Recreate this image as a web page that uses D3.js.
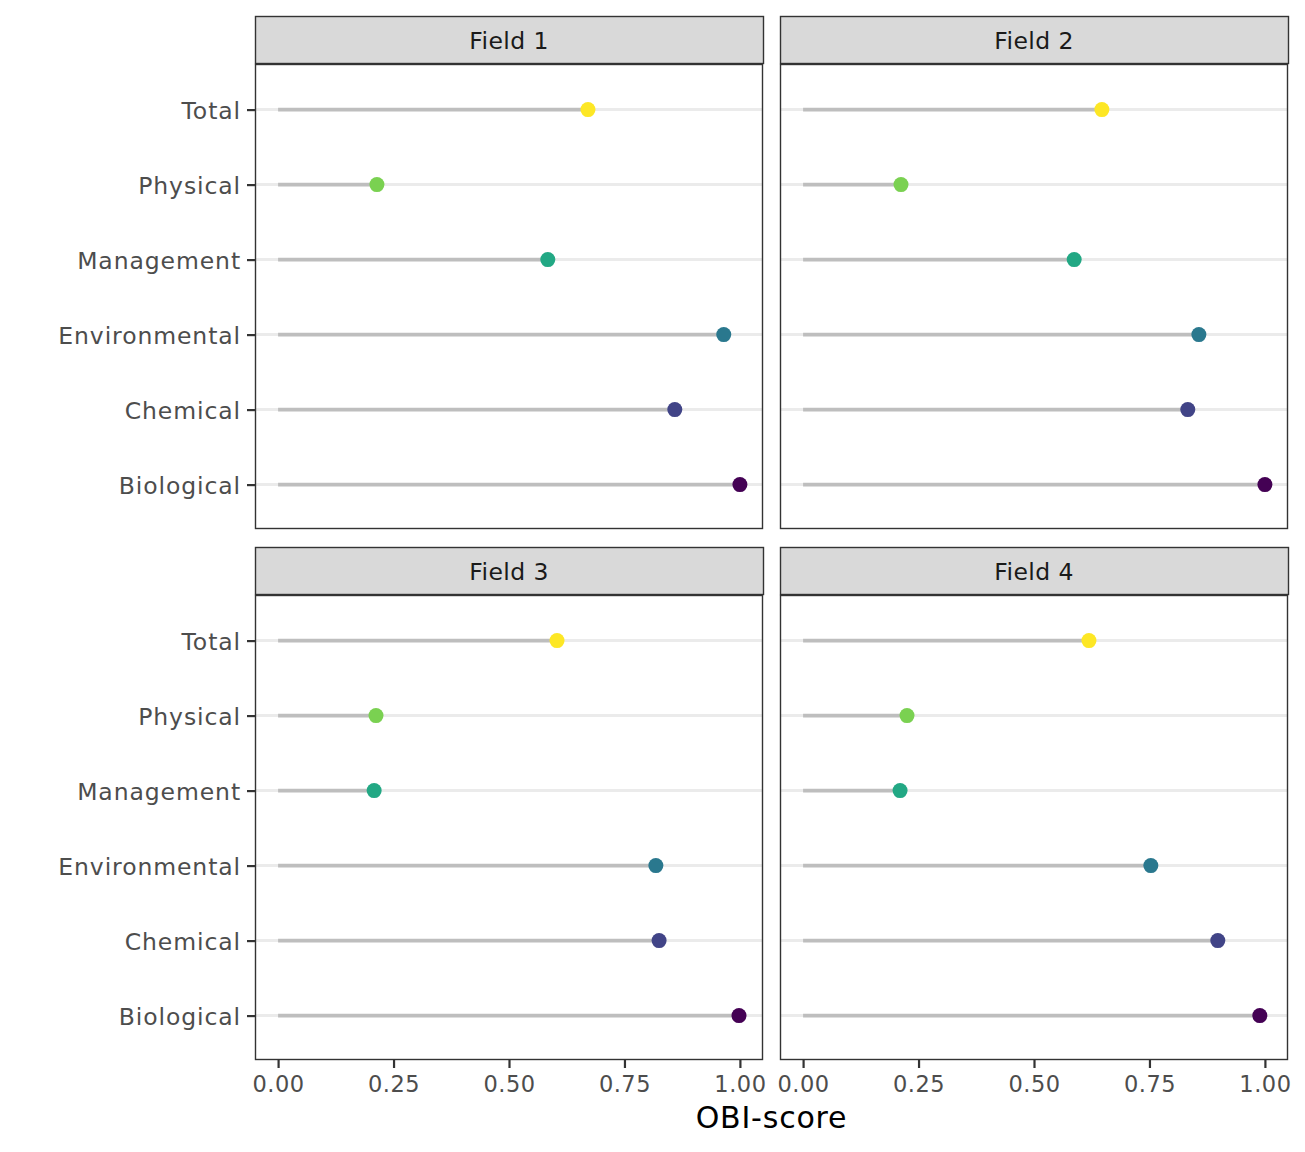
<!DOCTYPE html>
<html>
<head>
<meta charset="utf-8">
<script src="https://cdn.jsdelivr.net/npm/d3@7"></script>
<style>
body { margin: 0; background: #fff; }
svg { display: block; font-family: "DejaVu Sans", sans-serif; }
</style>
</head>
<body>
<div id="chart"></div>
<script>
const categories = ["Total", "Physical", "Management", "Environmental", "Chemical", "Biological"];
const fields = ["Field 1", "Field 2", "Field 3", "Field 4"];
const field1 = [0.671, 0.214, 0.584, 0.965, 0.859, 1.000];
const field2 = [0.647, 0.212, 0.587, 0.857, 0.833, 1.000];
const field3 = [0.604, 0.212, 0.208, 0.818, 0.825, 0.998];
const field4 = [0.619, 0.225, 0.210, 0.753, 0.898, 0.989];
const seriesValues = [field1, field2, field3, field4];
const xTicks = [0, 0.25, 0.5, 0.75, 1.0];
const xTickLabels = ["0.00", "0.25", "0.50", "0.75", "1.00"];
const catColors = ["#FDE725", "#7AD151", "#22A884", "#2A788E", "#414487", "#440154"];

const W = 1305, H = 1152;
const svg = d3.select("#chart").append("svg").attr("width", W).attr("height", H);

const colX = [255, 780];
const rowY = [16, 547];
const panelW = 508, stripH = 48, panelH = 465;

const color = d3.scaleOrdinal().domain(categories).range(catColors);

fields.forEach((f, i) => {
  const col = i % 2, row = Math.floor(i / 2);
  const x0 = colX[col], sy = rowY[row], py = sy + stripH;
  const x = d3.scaleLinear().domain([-0.05, 1.05]).range([x0, x0 + panelW]);
  const y = d3.scalePoint().domain(categories).range([py + 0.6, py + panelH + 0.6]).padding(0.6);
  const g = svg.append("g");

  // strip
  g.append("rect").attr("x", x0 + 0.5).attr("y", sy + 0.5).attr("width", panelW).attr("height", stripH - 1)
    .attr("fill", "#D9D9D9").attr("stroke", "#333333").attr("stroke-width", 1.4);
  g.append("text").attr("x", x0 + panelW / 2).attr("y", sy + stripH / 2 + 9)
    .attr("text-anchor", "middle").attr("font-size", 23.5).attr("fill", "#1A1A1A").attr("letter-spacing", 0.4).text(f);

  // panel background
  g.append("rect").attr("x", x0).attr("y", py).attr("width", panelW).attr("height", panelH).attr("fill", "#fff");

  // grid
  g.append("g").selectAll("line").data(categories).join("line")
    .attr("x1", x0).attr("x2", x0 + panelW).attr("y1", d => y(d)).attr("y2", d => y(d))
    .attr("stroke", "#EBEBEB").attr("stroke-width", 3);

  const data = categories.map((c, k) => ({ c, v: seriesValues[i][k] }));
  // segments
  g.append("g").selectAll("line").data(data).join("line")
    .attr("x1", x(0)).attr("x2", d => x(d.v)).attr("y1", d => y(d.c)).attr("y2", d => y(d.c))
    .attr("stroke", "#BEBEBE").attr("stroke-width", 3.6);
  // points
  g.append("g").selectAll("circle").data(data).join("circle")
    .attr("cx", d => x(d.v)).attr("cy", d => y(d.c)).attr("r", 7.5).attr("fill", d => color(d.c));

  // border
  g.append("rect").attr("x", x0 + 0.5).attr("y", py + 0.5).attr("width", panelW - 1).attr("height", panelH - 1)
    .attr("fill", "none").attr("stroke", "#333333").attr("stroke-width", 1.4);

  // y axis
  if (col === 0) {
    const ya = g.append("g").attr("transform", `translate(${x0},0)`)
      .call(d3.axisLeft(y).tickSize(8).tickPadding(6));
    ya.select(".domain").remove();
    ya.selectAll(".tick line").attr("stroke", "#333333").attr("stroke-width", 2.2);
    ya.selectAll(".tick text").attr("font-size", 23.5).attr("fill", "#4D4D4D").attr("letter-spacing", 0.9)
      .attr("font-family", "DejaVu Sans").attr("dy", "0.36em");
  }
  // x axis
  if (row === 1) {
    const xa = g.append("g").attr("transform", `translate(0,${py + panelH})`)
      .call(d3.axisBottom(x).tickValues(xTicks).tickFormat((d, k) => xTickLabels[k]).tickSize(8).tickPadding(8));
    xa.select(".domain").remove();
    xa.selectAll(".tick line").attr("stroke", "#333333").attr("stroke-width", 2.2);
    xa.selectAll(".tick text").attr("font-size", 22.5).attr("fill", "#4D4D4D").attr("letter-spacing", 0.5)
      .attr("font-family", "DejaVu Sans");
  }
});

svg.append("text").attr("x", (colX[0] + colX[1] + panelW) / 2).attr("y", 1128)
  .attr("text-anchor", "middle").attr("font-size", 30).attr("fill", "#000").attr("letter-spacing", 0.8).text("OBI-score");
</script>
</body>
</html>
